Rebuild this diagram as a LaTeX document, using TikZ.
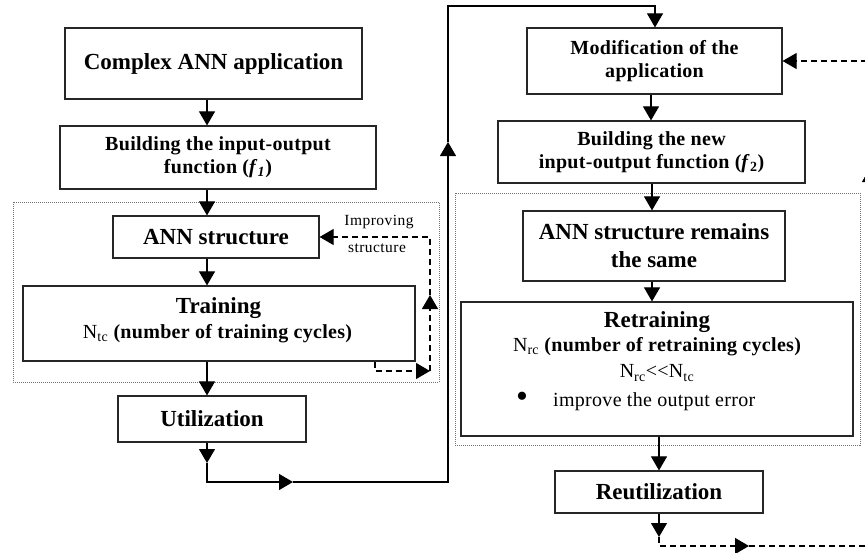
\documentclass[tikz,border=0pt]{standalone}
\usepackage{fontspec}
\setmainfont{Liberation Serif}
\newfontfamily\lsfont[LetterSpace=1.5]{Liberation Serif}
\newfontfamily\lssmall[LetterSpace=3]{Liberation Serif}
\usetikzlibrary{arrows.meta}
\newcommand\bigf{\fontsize{23}{28}\selectfont\bfseries}
\newcommand\medf{\lsfont\fontsize{20}{23}\selectfont\bfseries}
\newcommand\regf{\lsfont\fontsize{20}{23}\selectfont}
\newcommand\smallf{\lssmall\fontsize{15.5}{18}\selectfont}
\tikzset{
  box/.style={draw=black!85, line width=1.2pt, inner sep=0pt, align=center, anchor=center},
  arr/.style={-{Triangle[length=14pt,width=16pt]}, line width=1.1pt, draw=black},
  dsh/.style={dash pattern=on 6pt off 4pt},
  dotbox/.style={draw=black!55, line width=0.9pt, dash pattern=on 1pt off 1pt},
}
\begin{document}
\begin{tikzpicture}[x=1pt,y=-1pt]
\useasboundingbox (0,0) rectangle (865,552);
\clip (0,0) rectangle (865,552);
\fill[white] (0,0) rectangle (865,552);

% dotted group frames
\draw[dotbox] (13,202) rectangle (439,382);
\draw[dotbox] (455,193) rectangle (860,445);

% left column
\node[box, minimum width=297pt, minimum height=71pt, font=\bigf] (cplx) at (213.5,63.5) {Complex ANN application};
\node[box, minimum width=316pt, minimum height=63pt, font=\medf] (bld1) at (218,157.5) {Building the input-output\\function (\textit{f}\textsubscript{\textit{1}})};
\node[box, minimum width=206pt, minimum height=42pt, font=\bigf] (ann) at (216,237) {ANN structure};
\node[box, minimum width=392pt, minimum height=75pt] (train) at (219,323.5) {};
\node[font=\bigf, inner sep=0pt] (trainT) at (218.5,308) {Training};
\node[font=\medf, inner sep=0pt] (trainN) at (217.5,334) {{\mdseries N\textsubscript{tc}} (number of training cycles)};
\node[box, minimum width=188pt, minimum height=46pt, font=\bigf] (util) at (212,419) {Utilization};

% right column
\node[box, minimum width=255pt, minimum height=66pt, font=\medf] (mod) at (654.5,61) {Modification of the\\application};
\node[box, minimum width=307pt, minimum height=62pt, font=\medf] (bldn) at (651.5,152) {Building the new\\input-output function (\textit{f}\textsubscript{2})};
\node[box, minimum width=262pt, minimum height=70pt, font=\bigf] (annr) at (654,246) {ANN structure remains\\the same};
\node[box, minimum width=392pt, minimum height=134pt] (retr) at (657,369) {};
\node[font=\bigf, inner sep=0pt] (retrT) at (657,322) {Retraining};
\node[font=\medf, inner sep=0pt] (retrN) at (657,347) {{\mdseries N\textsubscript{rc}} (number of retraining cycles)};
\node[font=\regf, inner sep=0pt] (retrC) at (657,373) {N\textsubscript{rc}<<N\textsubscript{tc}};
\node[font=\fontsize{34}{34}\selectfont, inner sep=0pt] (bul) at (522,400) {\textbullet};
\node[font=\regf, inner sep=0pt, anchor=west] (retrI) at (553,402) {improve the output error};
\node[box, minimum width=208pt, minimum height=42pt, font=\bigf] (reut) at (659,492) {Reutilization};

% helper coordinates
\coordinate (colL) at (207,0);
\coordinate (c1) at (207,463);
\coordinate (c2) at (207,482);
\coordinate (c3) at (293,482);
\coordinate (c4) at (448,482);
\coordinate (c5) at (448,142);
\coordinate (c6) at (448,6);
\coordinate (c7) at (655,6);
\coordinate (d0) at (375,0);
\coordinate (d1) at (375,371);
\coordinate (d2) at (430,371);
\coordinate (d3) at (430,295);
\coordinate (d4) at (430,237);
\coordinate (e1) at (659,537);
\coordinate (e2) at (659,546);
\coordinate (e3) at (749,546);
\coordinate (e4) at (870,546);
\coordinate (e5) at (870,168);
\coordinate (e6) at (870,61);

% left connectors
\draw[arr] (cplx.south -| colL) -- (bld1.north -| colL);
\draw[arr] (bld1.south -| colL) -- (ann.north -| colL);
\draw[arr] (ann.south -| colL) -- (train.north -| colL);
\draw[arr] (train.south -| colL) -- (util.north -| colL);
\draw[arr] (util.south -| colL) -- (c1);
\draw[arr] (c1) -- (c2) -- (c3);
\draw[arr] (c3) -- (c4) -- (c5);
\draw[arr] (c5) -- (c6) -- (c7) -- (c7 |- mod.north);

% improving structure loop
\draw[arr, dsh] (train.south -| d0) -- (d1) -- (d2);
\draw[arr, dsh] (d2) -- (d3);
\draw[arr, dsh] (d3) -- (d4) -- (ann.east);
\node[font=\smallf, inner sep=0pt] (impA) at (379,222) {Improving};
\node[font=\smallf, inner sep=0pt] (impB) at (377,248) {structure};

% right connectors
\draw[arr] (mod.south -| 651,0) -- (bldn.north -| 651,0);
\draw[arr] (bldn.south -| 652,0) -- (annr.north -| 652,0);
\draw[arr] (annr.south -| 652,0) -- (retr.north -| 652,0);
\draw[arr] (retr.south -| reut.north) -- (reut.north);
\draw[arr] (reut.south) -- (e1);
\draw[arr, dsh] (e1) -- (e2) -- (e3);
\draw[arr, dsh] (e3) -- (e4) -- (e5);
\draw[arr, dsh] (e5) -- (e6) -- (mod.east);
\end{tikzpicture}
\end{document}
